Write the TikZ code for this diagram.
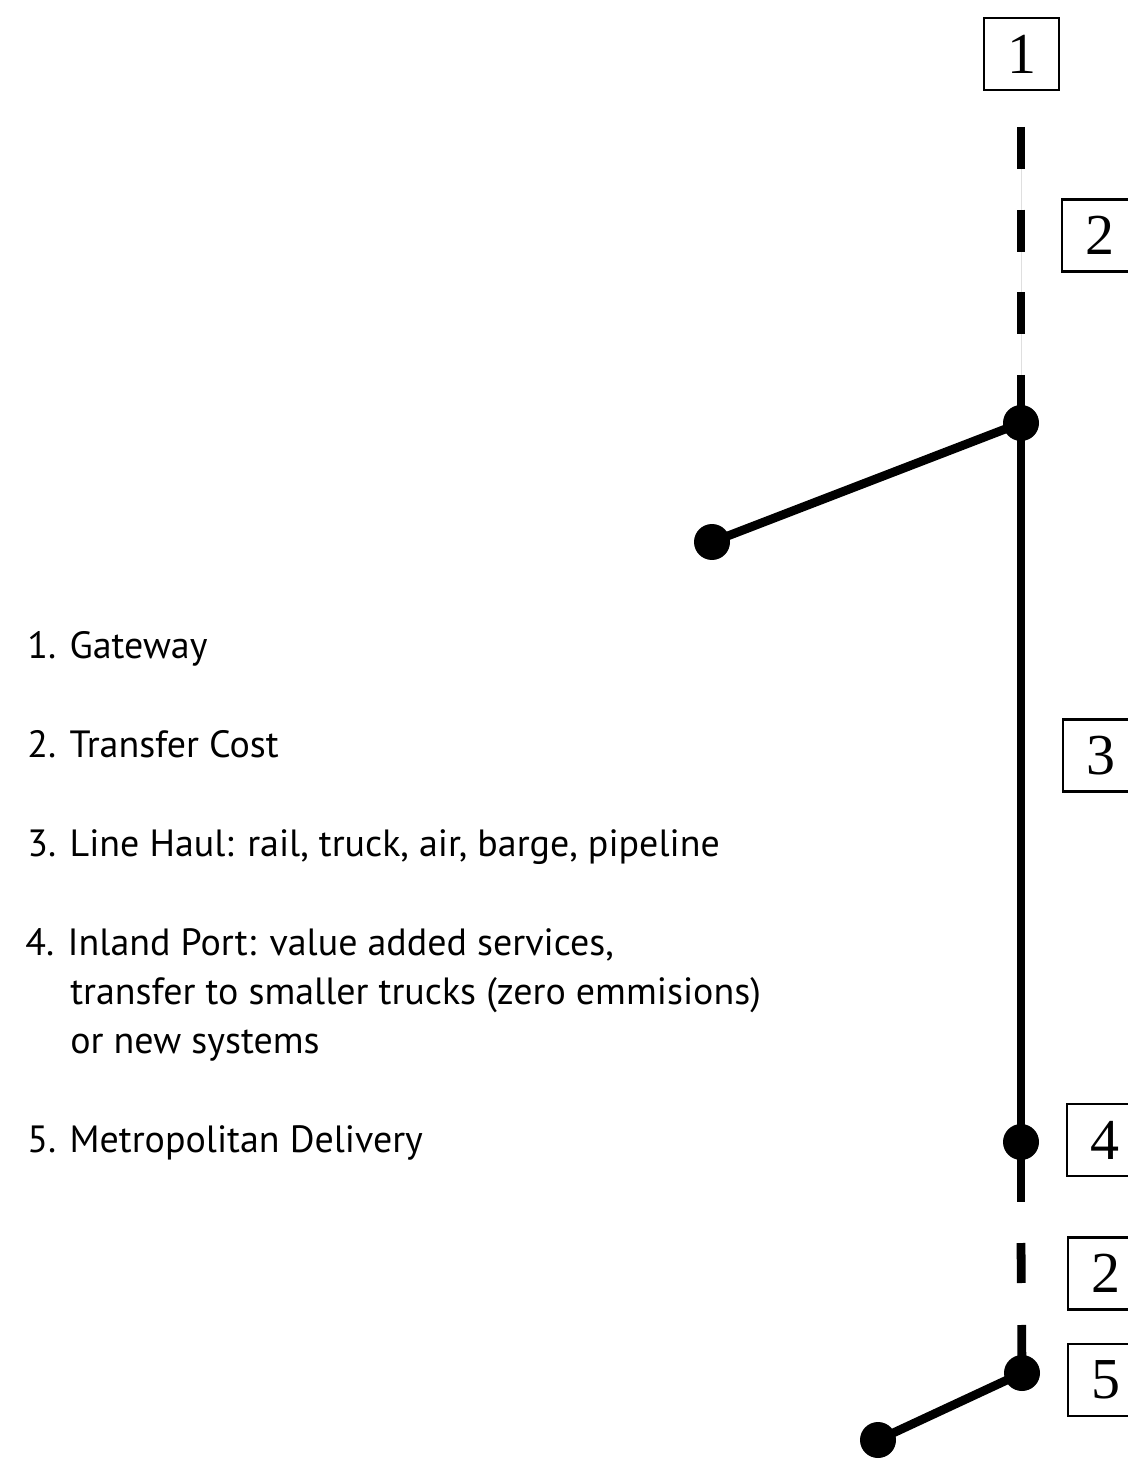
\documentclass[tikz,border=0pt]{standalone}
\usepackage{fontspec}
\setmainfont{PT Sans}
\newfontfamily\numfont{Liberation Serif}
\usetikzlibrary{positioning}
\tikzset{
    stage/.style={rectangle, draw=black, line width=1.5pt, minimum width=1.5cm,
        minimum height=1.44cm, inner sep=0pt, font=\numfont\fontsize{33}{33}\selectfont},
    dot/.style={circle, fill=black, minimum size=0.72cm, inner sep=0pt},
    route/.style={line width=5pt, line cap=butt},
    hop/.style={route, dash pattern=on 0.84cm off 0.815cm},
    faint/.style={gray!25, line width=0.5pt},
    item/.style={anchor=base west, inner sep=0pt, font=\fontsize{21.6}{26}\selectfont}
}

\begin{document}
\begin{tikzpicture}[x=0.02cm, y=-0.02cm]
    \clip (0,0) rectangle (1128,1459);

    % stage boxes
    \node[stage] (s1) at (1021.5,54) {1};
    \node[stage] (s2) at (1099.5,235.5) {2};
    \node[stage] (s3) at (1100.5,755.5) {3};
    \node[stage] (s4) at (1104.5,1140) {4};
    \node[stage] (s2b) at (1105.5,1273.5) {2};
    \node[stage] (s5) at (1105.5,1380) {5};

    % route points
    \coordinate (gatetop) at (1021,127);
    \coordinate (haultop) at (1021,375);
    \coordinate (haulend) at (1021,1202);
    \coordinate (lasttop) at (1021,1243);
    \node[dot] (junction) at (1021,423) {};
    \node[dot] (spur) at (712,542) {};
    \node[dot] (port) at (1021,1142) {};
    \node[dot] (deliv) at (1022,1373) {};
    \node[dot] (drop) at (878,1440) {};

    \draw[faint] (gatetop) -- (haultop);
    \draw[hop] (gatetop) -- (haultop);
    \draw[route] (haultop) -- (junction.center) -- (port.center) -- (haulend);
    \draw[route] (junction.center) -- (spur.center);
    \draw[hop, dash pattern=on 0.8cm off 0.84cm] (lasttop) -- (deliv.center);
    \draw[route] (deliv.center) -- (drop.center);

    % legend
    \node[item] (item1) at (27,658) {1. Gateway};
    \node[item] (item2) at (27,757) {2. Transfer Cost};
    \node[item] (item3) at (27,856) {3. Line Haul: rail, truck, air, barge, pipeline};
    \node[item] (item4) at (25,955) {4. Inland Port: value added services,};
    \node[item] (item4b) at (70,1004) {transfer to smaller trucks (zero emmisions)};
    \node[item] (item4c) at (70,1053) {or new systems};
    \node[item] (item5) at (27,1152) {5. Metropolitan Delivery};

\end{tikzpicture}
\end{document}
